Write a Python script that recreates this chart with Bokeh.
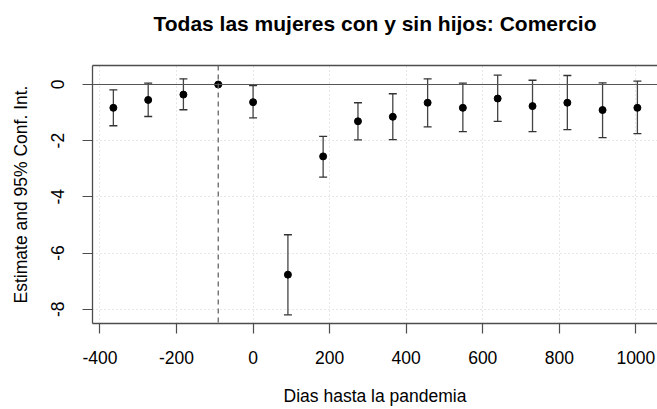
from bokeh.plotting import figure
from bokeh.models import Span, LinearAxis, FixedTicker, Range1d, ColumnDataSource, CustomJSTickFormatter
from bokeh.embed import file_html
from bokeh.resources import INLINE

# ---- data ----
days = [-365, -274, -182, -91, 0, 91, 183, 274, 365, 456, 548, 639, 730, 821, 913, 1004]
estimate = [-0.83, -0.55, -0.36, 0.0, -0.63, -6.77, -2.56, -1.31, -1.15, -0.65, -0.83, -0.50, -0.77, -0.65, -0.91, -0.83]
ci_lower = [-1.47, -1.14, -0.90, 0.0, -1.19, -8.20, -3.30, -1.97, -1.96, -1.51, -1.68, -1.31, -1.68, -1.61, -1.89, -1.75]
ci_upper = [-0.19, 0.05, 0.20, 0.0, -0.04, -5.35, -1.85, -0.65, -0.33, 0.20, 0.05, 0.33, 0.15, 0.32, 0.06, 0.12]
x_ticks = [-400, -200, 0, 200, 400, 600, 800, 1000]
y_ticks = [0, -2, -4, -6, -8]
reference_day = -91
title_text = "Todas las mujeres con y sin hijos: Comercio"
x_label = "Dias hasta la pandemia"
y_label = "Estimate and 95% Conf. Int."

FONT = "Liberation Sans"
BOX = "#4d4d4d"

src = ColumnDataSource(dict(x=days, y=estimate, lo=ci_lower, hi=ci_upper))

p = figure(width=657, height=409,
           x_range=Range1d(-419.5, 1056.5), y_range=Range1d(-8.51, 0.676),
           output_backend="svg", toolbar_location=None,
           min_border_left=92, min_border_right=0, min_border_top=65, min_border_bottom=86,
           x_axis_location=None, y_axis_location=None)
p.outline_line_color = None
p.background_fill_color = "white"
p.border_fill_color = "white"

fmt = CustomJSTickFormatter(code="return String(tick);")

# axes
xax = LinearAxis(ticker=FixedTicker(ticks=x_ticks), axis_label=x_label, formatter=fmt)
yax = LinearAxis(ticker=FixedTicker(ticks=y_ticks), axis_label=y_label, formatter=fmt)
for ax in (xax, yax):
    ax.axis_line_color = BOX
    ax.axis_line_width = 1.3
    ax.major_tick_line_color = BOX
    ax.major_tick_line_width = 1.2
    ax.major_tick_in = 0
    ax.major_tick_out = 10
    ax.minor_tick_line_color = None
    ax.major_label_text_font = FONT
    ax.major_label_text_font_size = "17.5px"
    ax.major_label_text_color = "black"
    ax.axis_label_text_font = FONT
    ax.axis_label_text_font_size = "17.5px"
    ax.axis_label_text_font_style = "normal"
    ax.axis_label_text_color = "black"
yax.major_label_orientation = "vertical"
xax.major_label_standoff = 17
xax.axis_label_standoff = 19
yax.major_label_standoff = 18
yax.axis_label_standoff = 18
p.add_layout(xax, "below")
p.add_layout(yax, "left")

# top edge of the box; its label carries the chart title, centred over the box
top = LinearAxis(ticker=FixedTicker(ticks=[]), axis_label=title_text)
top.axis_line_color = BOX
top.axis_line_width = 1.3
top.major_tick_line_color = None
top.minor_tick_line_color = None
top.major_tick_in = 0
top.major_tick_out = 0
top.major_label_standoff = 0
top.axis_label_text_font = FONT
top.axis_label_text_font_style = "bold"
top.axis_label_text_font_size = "21px"
top.axis_label_text_color = "black"
top.axis_label_standoff = 31
p.add_layout(top, "above")

# grid
p.xgrid.ticker = FixedTicker(ticks=x_ticks)
p.ygrid.ticker = FixedTicker(ticks=y_ticks)
for g in (p.xgrid, p.ygrid):
    g.grid_line_color = "#cfcfcf"
    g.grid_line_dash = "1 3"
    g.grid_line_width = 1

p.add_layout(Span(location=0, dimension="width", line_color="#555555", line_width=1.2))
p.add_layout(Span(location=reference_day, dimension="height", line_color="#666666",
                  line_width=1.3, line_dash="5 4"))

p.segment(x0="x", y0="lo", x1="x", y1="hi", source=src, line_color="#444444", line_width=1.3)
p.scatter(x="x", y="hi", source=src, marker="dash", size=8, line_color="#333333", line_width=1.3)
p.scatter(x="x", y="lo", source=src, marker="dash", size=8, line_color="#333333", line_width=1.3)
p.scatter(x="x", y="y", source=src, marker="circle", size=7, fill_color="black", line_color="black")

open("out.html", "w").write(file_html(p, INLINE))
